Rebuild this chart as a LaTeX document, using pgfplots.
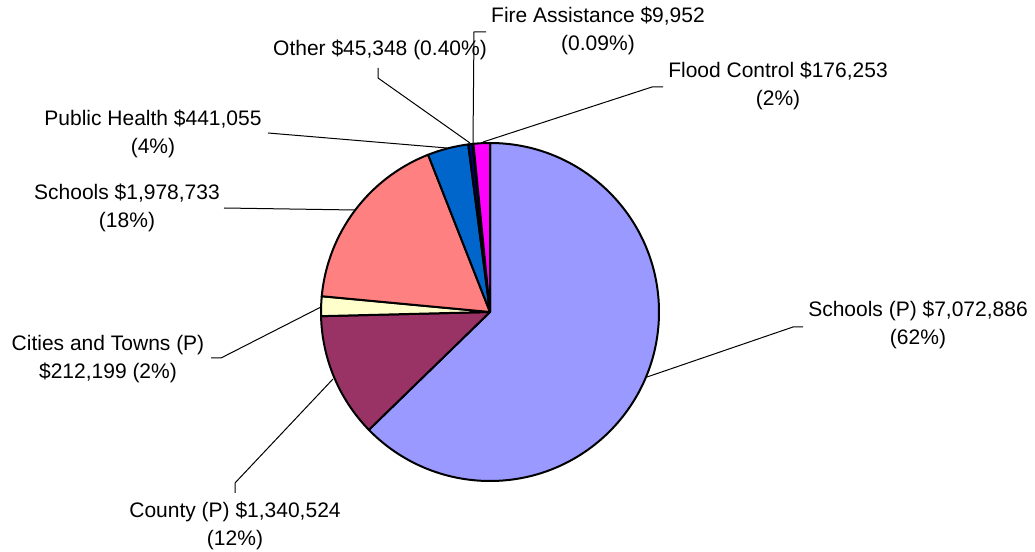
\documentclass[border=0pt]{standalone}
\usepackage{pgfplots}
\pgfplotsset{compat=1.18}
\usepackage{fontspec}
\setmainfont{Liberation Sans}
% values in thousands of dollars, clockwise from 12 o'clock
\def\vA{7072.886}% Schools (P)
\def\vB{1340.524}% County (P)
\def\vC{212.199}%  Cities and Towns (P)
\def\vD{1978.733}% Schools
\def\vE{441.055}%  Public Health
\def\vF{45.348}%   Other
\def\vG{9.952}%    Fire Assistance
\def\vH{176.253}%  Flood Control
\pgfmathsetmacro\tot{\vA+\vB+\vC+\vD+\vE+\vF+\vG+\vH}
\pgfmathsetmacro\aS{90}
\pgfmathsetmacro\aA{\aS-\vA/\tot*360}
\pgfmathsetmacro\aB{\aA-\vB/\tot*360}
\pgfmathsetmacro\aC{\aB-\vC/\tot*360}
\pgfmathsetmacro\aD{\aC-\vD/\tot*360}
\pgfmathsetmacro\aE{\aD-\vE/\tot*360}
\pgfmathsetmacro\aF{\aE-\vF/\tot*360}
\pgfmathsetmacro\aG{\aF-\vG/\tot*360}
\pgfmathsetmacro\aH{-270}
\definecolor{cA}{HTML}{9999FF}
\definecolor{cB}{HTML}{993366}
\definecolor{cC}{HTML}{FFFFCC}
\definecolor{cD}{HTML}{FF8080}
\definecolor{cE}{HTML}{0066CC}
\definecolor{cF}{HTML}{000080}
\definecolor{cG}{HTML}{CCFFFF}
\definecolor{cH}{HTML}{FF00FF}
\newcommand{\slice}[3]{%
  \filldraw[fill=#3, draw=black, line width=1pt, line join=round]
    (axis cs:490,240) -- ([shift={(#1:84.5pt)}]axis cs:490,240)
    arc[start angle=#1, end angle=#2, radius=84.5pt] -- cycle;}
\tikzset{lbl/.style={font=\fontsize{10.5}{13.8}\selectfont, align=center, inner sep=0pt}}
\begin{document}
\begin{tikzpicture}
\begin{axis}[hide axis, scale only axis, width=517.5pt, height=276pt,
  xmin=0, xmax=1035, ymin=0, ymax=552, clip=false]
\path (axis cs:0,0) rectangle (axis cs:1035,552);
\slice{\aS}{\aA}{cA}
\slice{\aA}{\aB}{cB}
\slice{\aB}{\aC}{cC}
\slice{\aC}{\aD}{cD}
\slice{\aD}{\aE}{cE}
\slice{\aE}{\aF}{cF}
\slice{\aF}{\aG}{cG}
\slice{\aG}{\aH}{cH}
% leader lines (y = 552 - pixel row)
\draw[line width=0.5pt] (axis cs:647,175) -- (axis cs:793,225) -- (axis cs:803,225);
\draw[line width=0.5pt] (axis cs:333,173) -- (axis cs:235,69) -- (axis cs:235,59);
\draw[line width=0.5pt] (axis cs:321,245) -- (axis cs:221,194) -- (axis cs:211,194);
\draw[line width=0.5pt] (axis cs:355,342) -- (axis cs:224,344);
\draw[line width=0.5pt] (axis cs:447,404) -- (axis cs:268,419);
\draw[line width=0.5pt] (axis cs:470,409) -- (axis cs:378,474) -- (axis cs:378,484);
\draw[line width=0.5pt] (axis cs:473,409) -- (axis cs:474,520) -- (axis cs:486,520);
\draw[line width=0.5pt] (axis cs:483,410) -- (axis cs:652,465) -- (axis cs:663,465);
% labels
\node[lbl] at (axis cs:918,227) {Schools (P) \$7,072,886\\(62\%)};
\node[lbl] at (axis cs:235,26) {County (P) \$1,340,524\\(12\%)};
\node[lbl] at (axis cs:108,193) {Cities and Towns (P)\\\$212,199 (2\%)};
\node[lbl] at (axis cs:127,344) {Schools \$1,978,733\\(18\%)};
\node[lbl] at (axis cs:153,418) {Public Health \$441,055\\(4\%)};
\node[lbl] at (axis cs:380,502) {Other \$45,348 (0.40\%)};
\node[lbl] at (axis cs:598,521) {Fire Assistance \$9,952\\(0.09\%)};
\node[lbl] at (axis cs:778,466) {Flood Control \$176,253\\(2\%)};
\end{axis}
\end{tikzpicture}
\end{document}
